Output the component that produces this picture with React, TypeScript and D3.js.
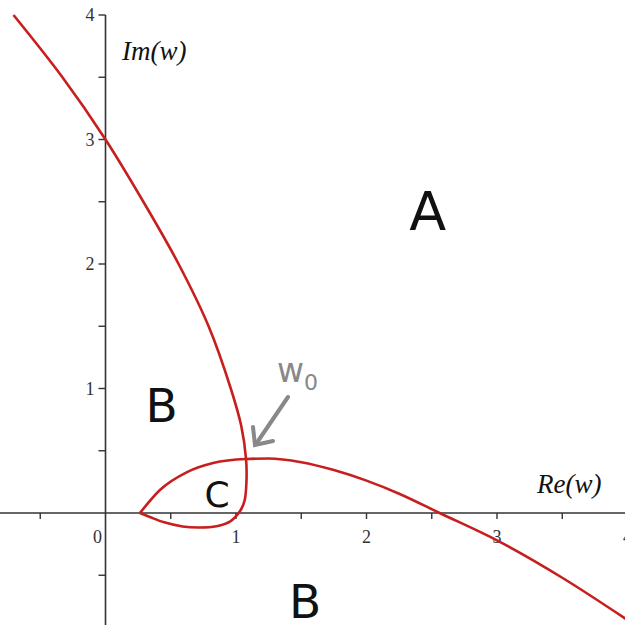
import React from 'react';
import * as d3 from 'd3';

// curve, in w-plane coordinates [Re, Im]
const outerBranch: [number, number][] = [
  [-0.705, 4.0], [-0.33, 3.5], [0, 3.0], [0.29, 2.5], [0.56, 2.0],
  [0.79, 1.5], [0.96, 1.0], [1.04, 0.7], [1.077, 0.434], [1.08, 0.25],
  [1.066, 0.1], [1.035, 0.022], [0.95, -0.072], [0.85, -0.106], [0.72, -0.116],
  [0.59, -0.108], [0.45, -0.075], [0.34, -0.032], [0.264, 0],
];
const innerBranch: [number, number][] = [
  [0.264, 0], [0.417, 0.185], [0.625, 0.329], [0.824, 0.402], [1.077, 0.434],
  [1.25, 0.438], [1.5, 0.408], [1.75, 0.345], [2.0, 0.26], [2.25, 0.155],
  [2.56, 0], [3.0, -0.22], [3.5, -0.52], [4.0, -0.86],
];
const xTicks = [-0.5, 0, 0.5, 1, 1.5, 2, 2.5, 3, 3.5, 4];
const yTicks = [-0.5, 0.5, 1, 1.5, 2, 2.5, 3, 3.5, 4];
const xLabels = [0, 1, 2, 3, 4];
const yLabels = [1, 2, 3, 4];
const regionNames = ['A', 'B', 'B', 'C'];
const regionAt: [number, number][] = [[2.47, 2.27], [0.43, 0.73], [1.53, -0.845], [0.855, 0.048]];
const regionSize = [54, 47, 47, 36];

export default function App() {
  const W = 625, H = 625;
  const x = d3.scaleLinear().domain([0, 4]).range([105.5, 627.5]);
  const y = d3.scaleLinear().domain([0, 4]).range([513, 15]);
  const smooth = d3.line<[number, number]>()
    .x(d => x(d[0]))
    .y(d => y(d[1]))
    .curve(d3.curveCatmullRom.alpha(0.5));
  const mono = d3.line<[number, number]>()
    .x(d => x(d[0]))
    .y(d => y(d[1]))
    .curve(d3.curveMonotoneX);
  const x0 = x(0), y0 = y(0);
  const serif = '"Liberation Serif", "Times New Roman", serif';
  const sans = '"DejaVu Sans", Verdana, sans-serif';

  return (
    <svg width={W} height={H} style={{ position: 'absolute', left: 0, top: 0, background: '#fff' }}>
      {/* axes */}
      <line x1={0} x2={W} y1={y0} y2={y0} stroke="#333" strokeWidth={1.6} />
      <line x1={x0} x2={x0} y1={y(4)} y2={H} stroke="#333" strokeWidth={1.6} />
      {xTicks.filter(t => t !== 0).map(t => (
        <line key={'xt' + t} x1={x(t)} x2={x(t)} y1={y0} y2={y0 + 6} stroke="#333" strokeWidth={1.4} />
      ))}
      {yTicks.map(t => (
        <line key={'yt' + t} x1={x0 - 7} x2={x0} y1={y(t)} y2={y(t)} stroke="#333" strokeWidth={1.4} />
      ))}
      {xLabels.map(t => (
        <text key={'xl' + t} x={t === 0 ? x0 - 8 : x(t)} y={y0 + 30} textAnchor="middle"
          fontFamily={serif} fontSize={18} fill="#333">{t}</text>
      ))}
      {yLabels.map(t => (
        <text key={'yl' + t} x={x0 - 11} y={y(t) + 6} textAnchor="end"
          fontFamily={serif} fontSize={18} fill="#333">{t}</text>
      ))}
      <text x={122} y={60} fontFamily={serif} fontStyle="italic" fontSize={27} fill="#111">Im(w)</text>
      <text x={537} y={493} fontFamily={serif} fontStyle="italic" fontSize={27} fill="#111">Re(w)</text>

      {/* curves */}
      <path d={smooth(outerBranch) ?? ''} fill="none" stroke="#c81e1e" strokeWidth={2.6} />
      <path d={mono(innerBranch) ?? ''} fill="none" stroke="#c81e1e" strokeWidth={2.6} />

      {/* region labels */}
      {regionNames.map((t, i) => (
        <text key={'r' + i} x={x(regionAt[i][0])} y={y(regionAt[i][1])} textAnchor="middle"
          fontFamily={sans} fontSize={regionSize[i]} fill="#111">{t}</text>
      ))}

      {/* w0 annotation */}
      <text x={277} y={382} fontFamily={sans} fontSize={33} fill="#888">w
        <tspan fontSize={22} dy={8}>0</tspan>
      </text>
      <g stroke="#888" strokeWidth={4} fill="none" strokeLinecap="round">
        <line x1={288} y1={397} x2={256} y2={444} />
        <polyline points="253,427 255,445 273,441" />
      </g>
    </svg>
  );
}
